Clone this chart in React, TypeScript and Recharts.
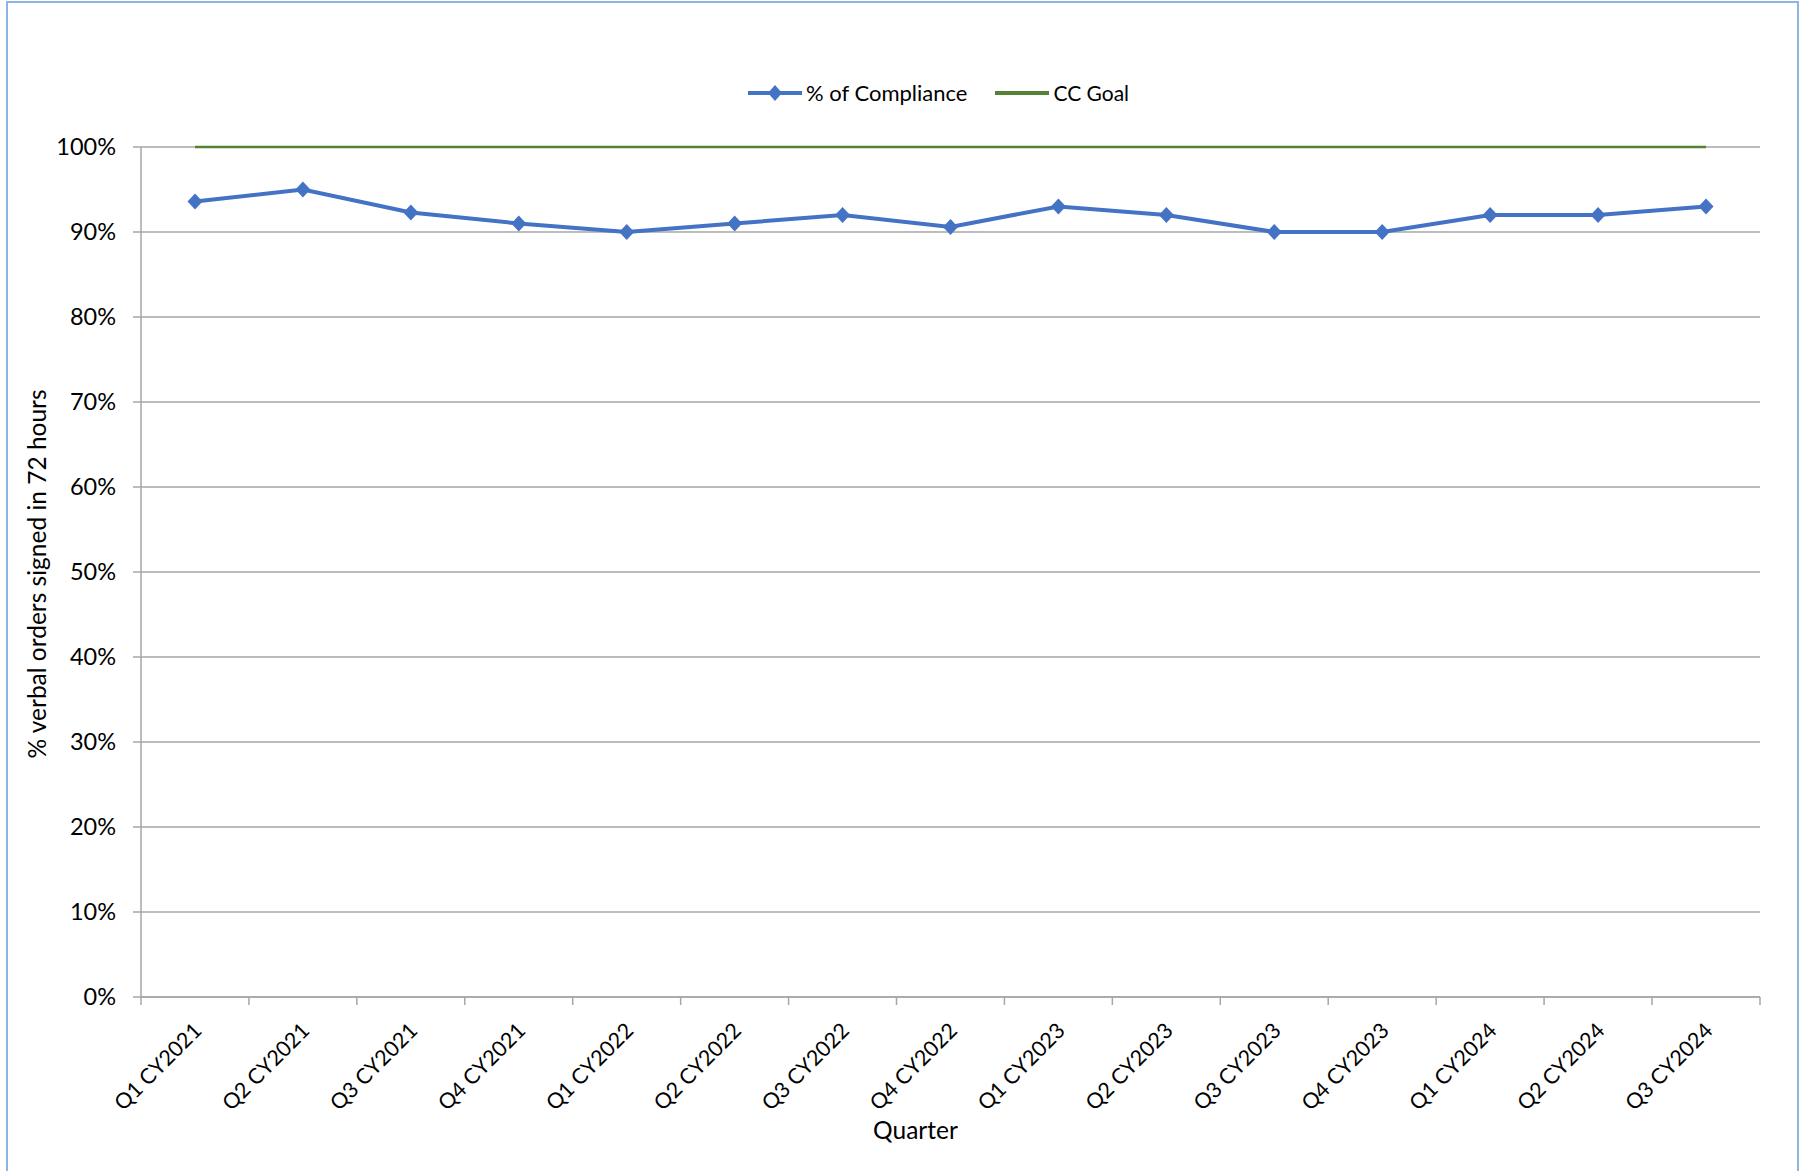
import React from 'react';
import { LineChart, Line, XAxis, YAxis, CartesianGrid, Legend, Label } from 'recharts';

const quarters = [
  'Q1 CY2021', 'Q2 CY2021', 'Q3 CY2021', 'Q4 CY2021',
  'Q1 CY2022', 'Q2 CY2022', 'Q3 CY2022', 'Q4 CY2022',
  'Q1 CY2023', 'Q2 CY2023', 'Q3 CY2023', 'Q4 CY2023',
  'Q1 CY2024', 'Q2 CY2024', 'Q3 CY2024',
];
const compliance = [93.6, 95.0, 92.3, 91.0, 90.0, 91.0, 92.0, 90.6, 93.0, 92.0, 90.0, 90.0, 92.0, 92.0, 93.0];
const ccGoal = [100, 100, 100, 100, 100, 100, 100, 100, 100, 100, 100, 100, 100, 100, 100];
const yTicks = [0, 10, 20, 30, 40, 50, 60, 70, 80, 90, 100];

const data = quarters.map((q, i) => ({ quarter: q, compliance: compliance[i], goal: ccGoal[i] }));

const FONT = 'Lato, "Open Sans", sans-serif';
const GRID = '#a6a6a6';
const BLUE = '#4472c4';
const GREEN = '#548235';
const HALF_BAND = 54;

const Diamond = (props: any) => {
  const { cx, cy, index } = props;
  if (cx == null || cy == null) return null;
  return (
    <path
      key={`d-${index}`}
      d={`M${cx},${cy - 8} L${cx + 7.5},${cy} L${cx},${cy + 8} L${cx - 7.5},${cy} Z`}
      fill={BLUE}
    />
  );
};

const XTick = (props: any) => {
  const { x, y, payload, index } = props;
  const tx = x + 8;
  const ty = y + 35;
  return (
    <g>
      <line x1={x - HALF_BAND} y1={y} x2={x - HALF_BAND} y2={y + 8} stroke={GRID} strokeWidth={1.5} />
      {index === quarters.length - 1 && (
        <line x1={x + HALF_BAND} y1={y} x2={x + HALF_BAND} y2={y + 8} stroke={GRID} strokeWidth={1.5} />
      )}
      <text
        x={tx}
        y={ty}
        transform={`rotate(-45 ${tx} ${ty})`}
        textAnchor="end"
        fontSize={21.5}
        fontFamily={FONT}
        fill="#000"
      >
        {payload.value}
      </text>
    </g>
  );
};

const LegendContent = (props: any) => {
  const { payload } = props;
  return (
    <div style={{ display: 'flex', alignItems: 'center', fontFamily: FONT, fontSize: 22, color: '#000' }}>
      {payload.map((item: any, i: number) => (
        <div key={item.value} style={{ display: 'flex', alignItems: 'center', marginRight: i === 0 ? 27 : 0 }}>
          <svg width={56} height={18} style={{ marginRight: 3 }}>
            <line x1={1} y1={9} x2={55} y2={9} stroke={item.color} strokeWidth={4} />
            {i === 0 && <path d="M28,1 L35,9 L28,17 L21,9 Z" fill={BLUE} />}
          </svg>
          <span style={{ fontSize: i === 0 ? 22 : 21 }}>{item.value}</span>
        </div>
      ))}
    </div>
  );
};

export default function App() {
  return (
    <div
      style={{
        position: 'absolute',
        left: 0,
        top: 0,
        width: 1805,
        height: 1171,
        overflow: 'hidden',
        background: '#fff',
        fontFamily: FONT,
      }}
    >
      <div
        style={{
          position: 'absolute',
          left: 6,
          top: 1,
          width: 1789,
          height: 1250,
          border: '2px solid #8db4e2',
        }}
      />
      <div style={{ position: 'absolute', left: 0, top: 0 }}>
        <LineChart width={1805} height={1171} data={data} margin={{ top: 147, right: 45, left: 0, bottom: 0 }}>
          <CartesianGrid vertical={false} stroke={GRID} strokeWidth={1.5} />
          <XAxis
            dataKey="quarter"
            height={174}
            interval={0}
            padding={{ left: HALF_BAND, right: HALF_BAND }}
            tickLine={false}
            tickSize={0}
            tickMargin={0}
            axisLine={{ stroke: GRID, strokeWidth: 1.5 }}
            tick={<XTick />}
          >
            <Label
              content={(p: any) => {
                const vb = p.viewBox;
                return (
                  <text
                    x={vb.x + vb.width / 2 - 35}
                    y={1139}
                    textAnchor="middle"
                    fontSize={24.5}
                    fontFamily={FONT}
                    fill="#000"
                  >
                    Quarter
                  </text>
                );
              }}
            />
          </XAxis>
          <YAxis
            width={141}
            domain={[0, 100]}
            ticks={yTicks}
            interval={0}
            tickFormatter={(v: number) => `${v}%`}
            tickSize={8}
            tickMargin={17}
            tickLine={{ stroke: GRID, strokeWidth: 1.5 }}
            axisLine={{ stroke: GRID, strokeWidth: 1.5 }}
            tick={{ fill: '#000', fontSize: 23.5, fontFamily: FONT }}
          >
            <Label
              content={(p: any) => {
                const vb = p.viewBox;
                const cy = vb.y + vb.height / 2 + 2;
                return (
                  <text
                    x={36}
                    y={cy}
                    transform={`rotate(-90 36 ${cy})`}
                    textAnchor="middle"
                    dominantBaseline="central"
                    fontSize={24.5}
                    fontFamily={FONT}
                    fill="#000"
                  >
                    % verbal orders signed in 72 hours
                  </text>
                );
              }}
            />
          </YAxis>
          <Legend
            layout="horizontal"
            verticalAlign="middle"
            wrapperStyle={{ top: 79, left: 747, width: 'auto' }}
            content={<LegendContent />}
          />
          <Line
            dataKey="compliance"
            name="% of Compliance"
            stroke={BLUE}
            strokeWidth={4}
            dot={Diamond}
            activeDot={false}
            isAnimationActive={false}
          />
          <Line
            dataKey="goal"
            name="CC Goal"
            stroke={GREEN}
            strokeWidth={2.5}
            dot={false}
            activeDot={false}
            isAnimationActive={false}
          />
        </LineChart>
      </div>
    </div>
  );
}
